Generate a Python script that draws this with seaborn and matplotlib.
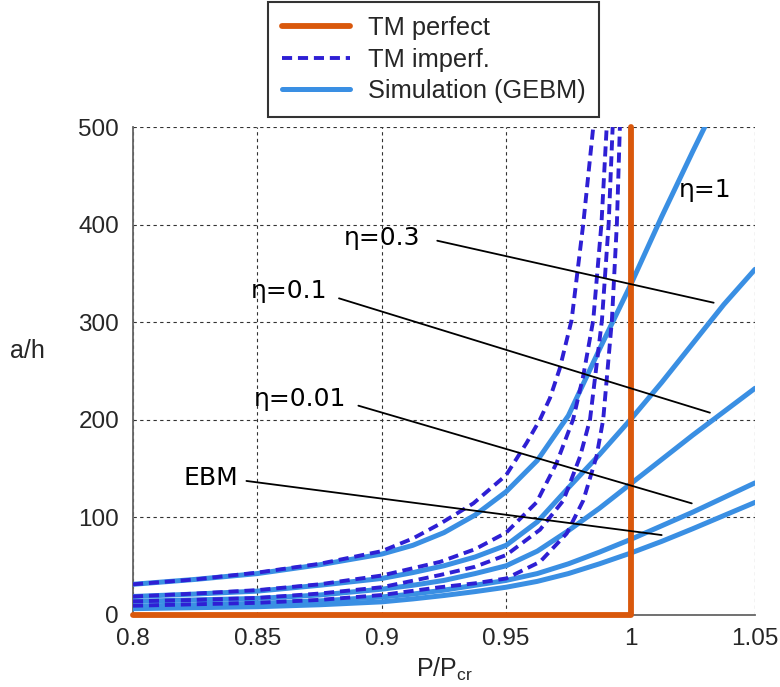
import numpy as np
import pandas as pd
import matplotlib
matplotlib.use("Agg")
import matplotlib.pyplot as plt
import seaborn as sns

# --- data ---
# GEBM simulation curves share one x grid
x_sim = [0.80, 0.825, 0.85, 0.875, 0.90, 0.9125, 0.925, 0.9375, 0.95, 0.9625,
         0.975, 0.9875, 1.00, 1.0125, 1.025, 1.0375, 1.05]
sim_eta1 = [31, 36, 42, 51, 62, 71, 84, 102, 126, 158, 204, 272, 338, 408, 475, 540, 600]
sim_eta03 = [18.5, 21, 24, 30, 37, 43, 50, 59, 71, 95, 130, 164, 200, 238, 278, 318, 354]
sim_eta01 = [13.5, 15, 16.5, 20, 26, 30, 35, 42, 50, 65, 86, 109, 134, 159, 184, 208, 232]
sim_eta001 = [8.5, 10, 11.5, 14, 18, 21, 25, 30, 35, 42, 52, 64, 77, 91, 105, 120, 135]
sim_ebm = [6, 7, 8, 10, 13, 16, 19.5, 23.5, 28, 34, 42, 52, 63, 75, 88, 101.5, 115]

# TM imperfect (dashed) curves
tm1_x = [0.80, 0.825, 0.85, 0.875, 0.90, 0.9125, 0.9234, 0.9368, 0.95, 0.9582,
         0.9636, 0.9676, 0.9715, 0.9763, 0.981, 0.985]
tm1_y = [31, 36, 43, 52, 65, 78, 93, 114, 143, 176, 200, 222, 252, 302, 401, 500]
tm03_x = [0.80, 0.825, 0.85, 0.875, 0.90, 0.9234, 0.9375, 0.95, 0.9622, 0.9702,
          0.9769, 0.981, 0.985, 0.9883, 0.9904]
tm03_y = [18.5, 21.5, 25, 31, 40, 54, 67, 84, 115, 155, 200, 245, 302, 401, 500]
tm01_x = [0.80, 0.825, 0.85, 0.875, 0.90, 0.9234, 0.9375, 0.95, 0.9636, 0.973,
          0.9797, 0.9837, 0.9885, 0.9912, 0.9928]
tm01_y = [13.5, 15, 17, 21.5, 28, 40.5, 49, 61, 87, 117, 162, 200, 302, 401, 500]
tm001_x = [0.80, 0.825, 0.85, 0.875, 0.90, 0.9234, 0.9375, 0.95, 0.9636, 0.9743,
           0.981, 0.9863, 0.989, 0.9925, 0.9945, 0.9957]
tm001_y = [9, 10.5, 12, 15, 20, 28, 32, 37, 54, 83, 117, 162, 200, 302, 401, 500]

# TM perfect: zero until P = Pcr, then vertical
tmp_x = [0.80, 1.00, 1.00]
tmp_y = [0, 0, 500]

x_ticks = [0.8, 0.85, 0.9, 0.95, 1.0, 1.05]
x_ticklabels = ["0.8", "0.85", "0.9", "0.95", "1", "1.05"]
y_ticks = [0, 100, 200, 300, 400, 500]

ORANGE = "#D9580C"
BLUE = "#3A8FE3"
DASH = "#2E1FD4"

sns.set_style("white")
plt.rcParams["font.family"] = ["Liberation Sans", "DejaVu Sans"]
plt.rcParams["mathtext.fontset"] = "custom"
plt.rcParams["mathtext.rm"] = "Liberation Sans"
plt.rcParams["mathtext.it"] = "Liberation Sans"

fig = plt.figure(figsize=(7.8, 6.87), dpi=100)
ax = fig.add_axes([0.1705, 0.1055, 0.7974, 0.7096])

# simulation curves
sims = [sim_eta1, sim_eta03, sim_eta01, sim_eta001, sim_ebm]
for i, ys in enumerate(sims):
    sns.lineplot(x=x_sim, y=ys, ax=ax, color=BLUE, lw=3.6, legend=False,
                 label="Simulation (GEBM)" if i == 0 else None, zorder=3)

# TM imperfect curves
tms = [(tm1_x, tm1_y), (tm03_x, tm03_y), (tm01_x, tm01_y), (tm001_x, tm001_y)]
for i, (xs, ys) in enumerate(tms):
    sns.lineplot(x=xs, y=ys, ax=ax, color=DASH, lw=2.8, legend=False,
                 linestyle=(0, (2.6, 1.5)),
                 label="TM imperf." if i == 0 else None, zorder=4)

# TM perfect
sns.lineplot(x=tmp_x, y=tmp_y, ax=ax, color=ORANGE, lw=4.2, sort=False,
             estimator=None, legend=False, label="TM perfect", zorder=5,
             clip_on=False)

ax.set_xlim(0.8, 1.05)
ax.set_ylim(0, 500)
ax.set_xticks(x_ticks)
ax.set_xticklabels(x_ticklabels)
ax.set_yticks(y_ticks)
ax.set_yticks(np.arange(50, 500, 100), minor=True)
ax.tick_params(axis="both", which="both", direction="in", labelsize=17.5,
               color="#555555")
ax.tick_params(axis="both", which="major", length=5, width=1)
ax.tick_params(axis="y", which="minor", length=5, width=1)
ax.tick_params(axis="x", pad=10)
ax.tick_params(axis="y", pad=10)

ax.grid(True, which="major", color="#333333", lw=0.8, ls=(0, (3, 3)))
for side in ["top", "right"]:
    ax.spines[side].set_visible(False)
for side in ["left", "bottom"]:
    ax.spines[side].set_color("#666666")
    ax.spines[side].set_linewidth(1.3)

ax.set_xlabel("P/P$_{\\mathrm{cr}}$", fontsize=18, labelpad=4)
ax.set_ylabel("a/h", fontsize=18, rotation=0, labelpad=0)
ax.yaxis.set_label_coords(-0.17, 0.515)

# labels with leader lines
lab_font = dict(fontsize=18, family="DejaVu Sans", color="black")
ax.text(1.0299, 435, "η=1", ha="center", va="center", **lab_font)
ax.text(0.900, 386, "η=0.3", ha="center", va="center", **lab_font)
ax.text(0.8627, 332, "η=0.1", ha="center", va="center", **lab_font)
ax.text(0.867, 221, "η=0.01", ha="center", va="center", **lab_font)
ax.text(0.8313, 140, "EBM", ha="center", va="center", **lab_font)
leaders = [((0.9223, 383.4), (1.0334, 319.8)),
           ((0.8828, 324.3), (1.0319, 207.0)),
           ((0.8906, 214.2), (1.0246, 114.0)),
           ((0.8456, 137.0), (1.0125, 81.5))]
for (x0, y0), (x1, y1) in leaders:
    ax.plot([x0, x1], [y0, y1], color="black", lw=1.3, zorder=6)

handles, labels = ax.get_legend_handles_labels()
order = [labels.index(l) for l in ["TM perfect", "TM imperf.", "Simulation (GEBM)"]]
leg = fig.legend([handles[i] for i in order], [labels[i] for i in order],
                 loc="upper center", bbox_to_anchor=(0.556, 0.997),
                 fontsize=18.3, frameon=True, fancybox=False, edgecolor="black",
                 handlelength=2.7, handletextpad=0.68, labelspacing=0.3,
                 borderpad=0.55, borderaxespad=0)
leg.get_frame().set_linewidth(1.5)

fig.savefig("out.png", dpi=100)
